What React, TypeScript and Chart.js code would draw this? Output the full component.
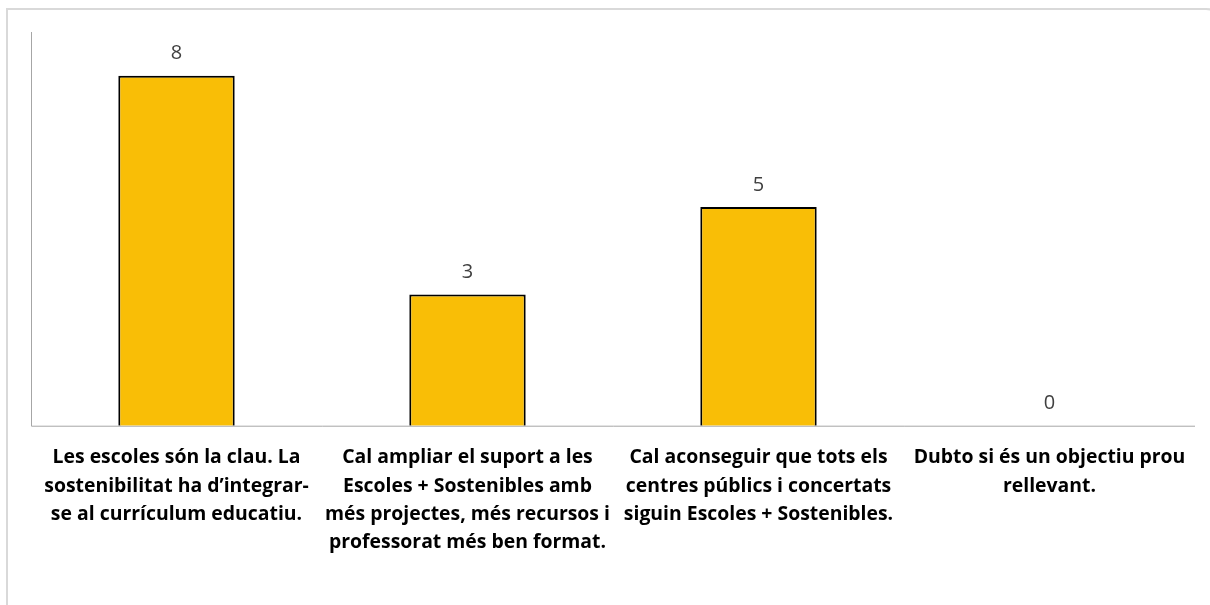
import React, { useEffect, useRef } from "react";
import { Chart, registerables } from "chart.js";

Chart.register(...registerables);

const categories: string[][] = [
  ["Les escoles són la clau. La", "sostenibilitat ha d’integrar-", "se al currículum educatiu."],
  ["Cal ampliar el suport a les", "Escoles + Sostenibles amb", "més projectes, més recursos i", "professorat més ben format."],
  ["Cal aconseguir que tots els", "centres públics i concertats", "siguin Escoles + Sostenibles."],
  ["Dubto si és un objectiu prou", "rellevant."],
];
const values: number[] = [8, 3, 5, 0];
const yMax = 9;

const FONT = "'Open Sans'";

const valueLabels = {
  id: "valueLabels",
  afterDatasetsDraw(chart: any) {
    const ctx = chart.ctx;
    const meta = chart.getDatasetMeta(0);
    ctx.save();
    ctx.font = `20px ${FONT}`;
    ctx.fillStyle = "#404040";
    ctx.textAlign = "center";
    ctx.textBaseline = "middle";
    meta.data.forEach((bar: any, i: number) => {
      ctx.fillText(String(values[i]), bar.x, bar.y - 22);
    });
    ctx.restore();
  },
};

const axisLines = {
  id: "axisLines",
  beforeDatasetsDraw(chart: any) {
    const { ctx, chartArea } = chart;
    ctx.save();
    ctx.strokeStyle = "#a6a6a6";
    ctx.lineWidth = 1;
    ctx.beginPath();
    ctx.moveTo(chartArea.left + 0.5, chartArea.top);
    ctx.lineTo(chartArea.left + 0.5, chartArea.bottom + 0.5);
    ctx.lineTo(chartArea.right, chartArea.bottom + 0.5);
    ctx.stroke();
    ctx.restore();
  },
};

export default function App() {
  const ref = useRef<HTMLCanvasElement>(null);
  useEffect(() => {
    const chart = new Chart(ref.current!, {
      type: "bar",
      data: {
        labels: categories,
        datasets: [
          {
            data: values,
            backgroundColor: "#F9BE06",
            borderColor: "#000000",
            borderWidth: 2,
            categoryPercentage: 0.4,
            barPercentage: 1,
          },
        ],
      },
      options: {
        animation: false,
        responsive: false,
        maintainAspectRatio: false,
        layout: { padding: { left: 31, right: 15, top: 32, bottom: 38 } },
        plugins: { legend: { display: false }, tooltip: { enabled: false } },
        scales: {
          x: {
            grid: { display: false },
            border: { display: false },
            ticks: {
              color: "#000000",
              font: { family: FONT, size: 19.4, weight: "bold", lineHeight: 1.46 },
              padding: 10,
              maxRotation: 0,
              autoSkip: false,
            },
          },
          y: {
            display: false,
            min: 0,
            max: yMax,
          },
        },
      },
      plugins: [axisLines, valueLabels],
    });
    return () => chart.destroy();
  }, []);
  return (
    <div style={{ position: "fixed", left: 0, top: 0, width: 1210, height: 605, background: "#fff", overflow: "hidden" }}>
      <div
        style={{
          position: "absolute",
          left: 6,
          top: 8,
          width: 1220,
          height: 640,
          border: "2px solid #d9d9d9",
          borderTopRightRadius: 20,
          boxSizing: "border-box",
        }}
      />
      <canvas ref={ref} width={1210} height={605} style={{ position: "absolute", left: 0, top: 0 }} />
    </div>
  );
}
